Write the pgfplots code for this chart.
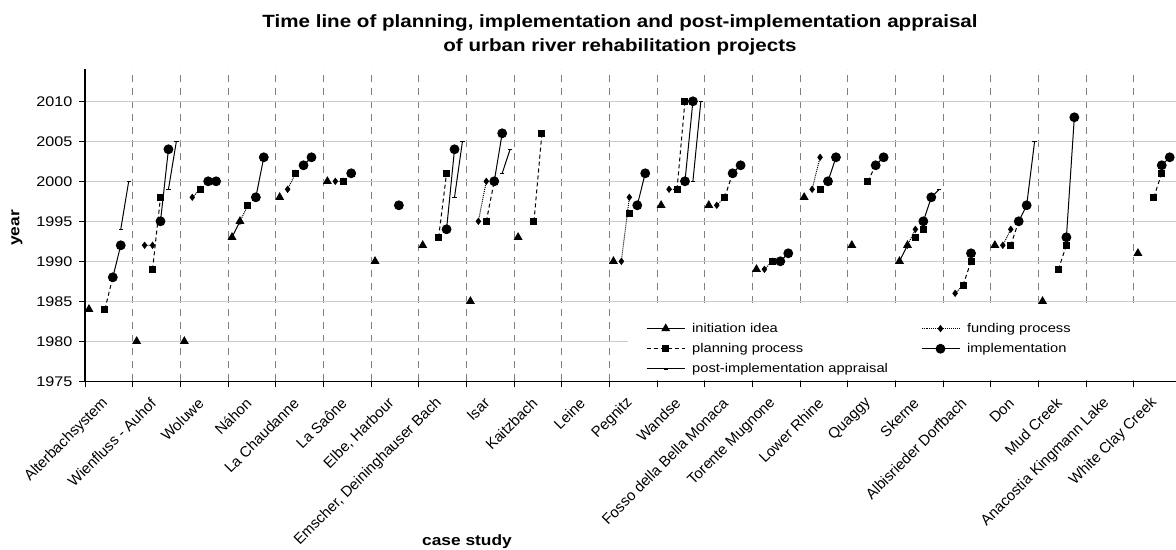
\documentclass[border=0pt]{standalone}
\usepackage{fontspec}
\setmainfont{Liberation Sans}[FakeStretch=1.16]
\newfontfamily\plainsans{Liberation Sans}
\usepackage{pgfplots}
\pgfplotsset{compat=1.18}

% one category = 6 slots: 0 idea, 1-2 funding, 2-3 planning, 3-4 implementation, 4-5 appraisal
\pgfplotsset{
  table/slot/.style={x expr={6*\thisrow{c}+\thisrow{s}+0.5}, y=y, row sep=\\},
  init/.style={black, line width=1bp, mark=triangle*, mark size=4.2bp},
  fund/.style={black, line width=1bp, densely dotted, mark=diamond*, mark size=2.9bp, mark options={solid}},
  plan/.style={black, line width=1bp, dash pattern=on 4bp off 3bp, mark=square*, mark size=3bp, mark options={solid}},
  impl/.style={black, line width=1bp, mark=*, mark size=4.4bp},
  appr/.style={black, line width=1bp, mark=-, mark size=2.2bp, mark options={solid, line width=1.2bp}},
}

\begin{document}
\begin{tikzpicture}
\useasboundingbox (0,0) rectangle (1176bp,550bp);
\begin{axis}[
  at={(85bp,168.7bp)}, anchor=south west,
  scale only axis, width=1096.6bp, height=312bp,
  xmin=0, xmax=138, ymin=1975, ymax=2014,
  axis x line*=bottom, axis y line*=left,
  axis line style={line width=1.2bp},
  xtick={0,6,...,132},
  xticklabels={Alterbachsystem, Wienfluss - Auhof, Woluwe, Náhon, La Chaudanne, La Saône,
    {Elbe, Harbour}, {Emscher, Deininghauser Bach}, Isar, Kaitzbach, Leine, Pegnitz, Wandse,
    Fosso della Bella Monaca, Torente Mugnone, Lower Rhine, Quaggy, Skerne,
    Albisrieder Dorfbach, Don, Mud Creek, Anacostia Kingmann Lake, White Clay Creek},
  ytick={1975,1980,...,2010},
  tick align=outside, major tick length=6bp,
  tick style={black, line width=1bp},
  xmajorgrids, ymajorgrids,
  x grid style={black!50, line width=1bp, dash pattern=on 7bp off 6bp},
  y grid style={black!20, line width=1.2bp},
  /pgf/number format/assume math mode=true,
  /pgf/number format/1000 sep={},
  yticklabel style={font=\fontsize{14}{16}\selectfont, xshift=-3bp},
  xticklabel style={font=\plainsans\fontsize{15}{17}\selectfont,
    xshift=23bp, yshift=-11bp, rotate=45, anchor=east},
  unbounded coords=jump,
  legend columns=2,
  legend cell align=left,
  legend style={at={(0.5116,0.193)}, anchor=north west, draw=none, fill=none,
    inner sep=0pt, font=\fontsize{12.7}{15}\selectfont, row sep=5.5bp,
    /tikz/every odd column/.append style={column sep=5bp},
    /tikz/every even column/.append style={column sep=31bp}},
  legend image code/.code={\draw[mark repeat=2,mark phase=2,#1]
    plot coordinates {(0bp,0bp) (19bp,0bp) (38bp,0bp)};},
]
% white legend area
\fill[white] (axis cs:68.34,1975.2) rectangle (axis cs:138,1984);

\addplot[init] table[slot] {
c s y\\
0 0 1984\\ 0 0 nan\\
1 0 1980\\ 0 0 nan\\
2 0 1980\\ 0 0 nan\\
3 0 1993\\ 3 1 1995\\ 0 0 nan\\
4 0 1998\\ 0 0 nan\\
5 0 2000\\ 0 0 nan\\
6 0 1990\\ 0 0 nan\\
7 0 1992\\ 0 0 nan\\
8 0 1985\\ 0 0 nan\\
9 0 1993\\ 0 0 nan\\
11 0 1990\\ 0 0 nan\\
12 0 1997\\ 0 0 nan\\
13 0 1997\\ 0 0 nan\\
14 0 1989\\ 0 0 nan\\
15 0 1998\\ 0 0 nan\\
16 0 1992\\ 0 0 nan\\
17 0 1990\\ 17 1 1992\\ 0 0 nan\\
19 0 1992\\ 0 0 nan\\
20 0 1985\\ 0 0 nan\\
22 0 1991\\
};
\addlegendentry{initiation idea}

\addplot[fund] table[slot] {
c s y\\
1 1 1992\\ 1 2 1992\\ 0 0 nan\\
2 1 1998\\ 2 2 1999\\ 0 0 nan\\
3 1 1995\\ 3 2 1997\\ 0 0 nan\\
4 1 1999\\ 4 2 2001\\ 0 0 nan\\
5 1 2000\\ 5 2 2000\\ 0 0 nan\\
8 1 1995\\ 8 2 2000\\ 0 0 nan\\
11 1 1990\\ 11 2 1998\\ 0 0 nan\\
12 1 1999\\ 12 2 1999\\ 0 0 nan\\
13 1 1997\\ 13 2 1998\\ 0 0 nan\\
14 1 1989\\ 14 2 1990\\ 0 0 nan\\
15 1 1999\\ 15 2 2003\\ 0 0 nan\\
17 1 1992\\ 17 2 1994\\ 0 0 nan\\
18 1 1986\\ 18 2 1987\\ 0 0 nan\\
19 1 1992\\ 19 2 1994\\
};
\addlegendentry{funding process}

\addplot[plan] table[slot] {
c s y\\
0 2 1984\\ 0 3 1988\\ 0 0 nan\\
1 2 1989\\ 1 3 1998\\ 0 0 nan\\
2 2 1999\\ 2 3 2000\\ 0 0 nan\\
3 2 1997\\ 3 3 1998\\ 0 0 nan\\
4 2 2001\\ 4 3 2002\\ 0 0 nan\\
5 2 2000\\ 5 3 2001\\ 0 0 nan\\
7 2 1993\\ 7 3 2001\\ 0 0 nan\\
8 2 1995\\ 8 3 2000\\ 0 0 nan\\
9 2 1995\\ 9 3 2006\\ 0 0 nan\\
11 2 1996\\ 11 3 1997\\ 0 0 nan\\
12 2 1999\\ 12 3 2010\\ 0 0 nan\\
13 2 1998\\ 13 3 2001\\ 0 0 nan\\
14 2 1990\\ 14 3 1990\\ 0 0 nan\\
15 2 1999\\ 15 3 2000\\ 0 0 nan\\
16 2 2000\\ 16 3 2002\\ 0 0 nan\\
17 2 1993\\ 17 3 1994\\ 0 0 nan\\
18 2 1987\\ 18 3 1990\\ 0 0 nan\\
19 2 1992\\ 19 3 1995\\ 0 0 nan\\
20 2 1989\\ 20 3 1992\\ 0 0 nan\\
22 2 1998\\ 22 3 2001\\
};
\addlegendentry{planning process}

\addplot[impl] table[slot] {
c s y\\
0 3 1988\\ 0 4 1992\\ 0 0 nan\\
1 3 1995\\ 1 4 2004\\ 0 0 nan\\
2 3 2000\\ 2 4 2000\\ 0 0 nan\\
3 3 1998\\ 3 4 2003\\ 0 0 nan\\
4 3 2002\\ 4 4 2003\\ 0 0 nan\\
5 3 2001\\ 0 0 nan\\
6 3 1997\\ 0 0 nan\\
7 3 1994\\ 7 4 2004\\ 0 0 nan\\
8 3 2000\\ 8 4 2006\\ 0 0 nan\\
11 3 1997\\ 11 4 2001\\ 0 0 nan\\
12 3 2000\\ 12 4 2010\\ 0 0 nan\\
13 3 2001\\ 13 4 2002\\ 0 0 nan\\
14 3 1990\\ 14 4 1991\\ 0 0 nan\\
15 3 2000\\ 15 4 2003\\ 0 0 nan\\
16 3 2002\\ 16 4 2003\\ 0 0 nan\\
17 3 1995\\ 17 4 1998\\ 0 0 nan\\
18 3 1991\\ 0 0 nan\\
19 3 1995\\ 19 4 1997\\ 0 0 nan\\
20 3 1993\\ 20 4 2008\\ 0 0 nan\\
22 3 2002\\ 22 4 2003\\
};
\addlegendentry{implementation}

\addplot[appr] table[slot] {
c s y\\
0 4 1994\\ 0 5 2000\\ 0 0 nan\\
1 4 1999\\ 1 5 2005\\ 0 0 nan\\
7 4 1998\\ 7 5 2005\\ 0 0 nan\\
8 4 2001\\ 8 5 2004\\ 0 0 nan\\
12 4 2000\\ 12 5 2010\\ 0 0 nan\\
17 4 1998\\ 17 5 1999\\ 0 0 nan\\
19 4 1997\\ 19 5 2005\\
};
\addlegendentry{post-implementation appraisal}
\end{axis}

\node[font=\bfseries\fontsize{17.8}{22}\selectfont, anchor=base] at (620bp,522bp)
  {Time line of planning, implementation and post-implementation appraisal};
\node[font=\bfseries\fontsize{17.8}{22}\selectfont, anchor=base] at (620bp,498.5bp)
  {of urban river rehabilitation projects};
\node[font=\bfseries\fontsize{15}{18}\selectfont, rotate=90] at (17bp,322bp) {year};
\node[font=\bfseries\fontsize{15}{18}\selectfont, anchor=base] at (467bp,5bp) {case study};
\end{tikzpicture}
\end{document}
